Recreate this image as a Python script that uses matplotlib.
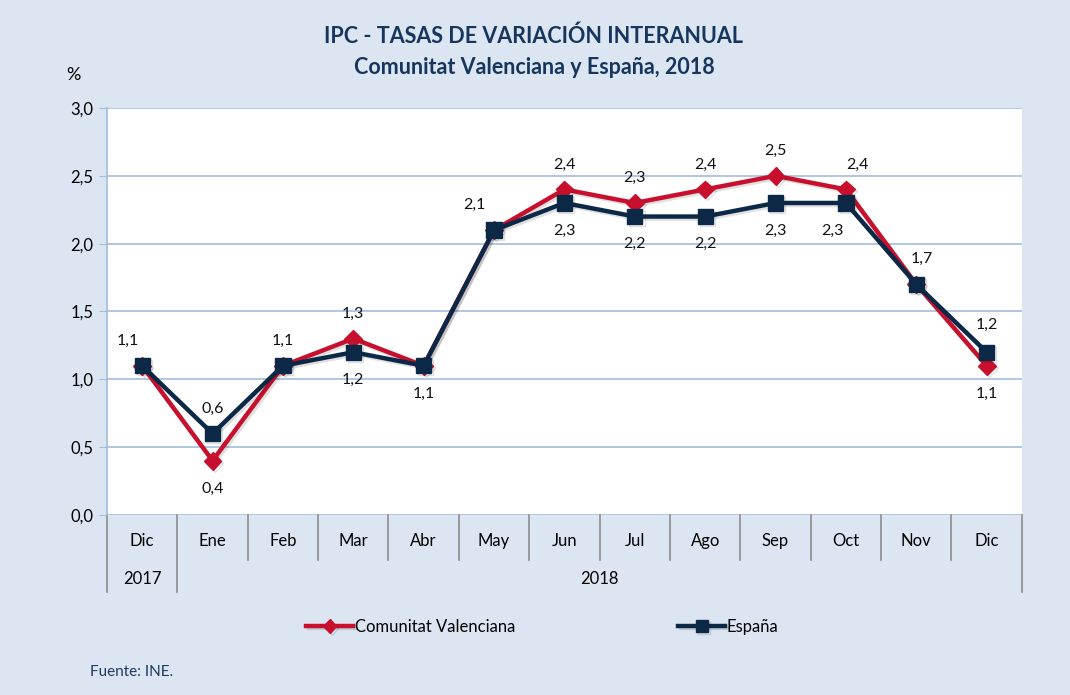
import numpy as np
import matplotlib.pyplot as plt
import matplotlib.patheffects as pe
from matplotlib.transforms import blended_transform_factory

plt.rcParams['font.family'] = ['Lato', 'DejaVu Sans']

# Data
months = ["Dic", "Ene", "Feb", "Mar", "Abr", "May", "Jun", "Jul", "Ago", "Sep", "Oct", "Nov", "Dic"]
years = ["2017", "2018"]
cv = [1.1, 0.4, 1.1, 1.3, 1.1, 2.1, 2.4, 2.3, 2.4, 2.5, 2.4, 1.7, 1.1]
esp = [1.1, 0.6, 1.1, 1.2, 1.1, 2.1, 2.3, 2.2, 2.2, 2.3, 2.3, 1.7, 1.2]

# label placement: (dx points, dy points) for each series, None = hidden
cv_off = [(-10, 18), (0, -20), (0, 18), (0, 18), None, (-14, 18), (0, 18), (0, 18), (0, 18), (0, 18), (8, 18), (4, 18), (0, -20)]
esp_off = [None, (0, 18), None, (0, -20), (0, -20), None, (0, -20), (0, -20), (0, -20), (0, -20), (-10, -20), None, (0, 20)]

BG = "#dce6f2"
RED = "#c8102e"
NAVY = "#0b2847"
GRID = "#a3bcdc"
SEP = "#8c8c8c"

fig = plt.figure(figsize=(10.7, 6.95), dpi=100, facecolor=BG)
ax = fig.add_axes([0.1, 0.259, 0.855, 0.5856])
ax.set_facecolor("white")

x = np.arange(len(months))
shadow = [pe.SimpleLineShadow(offset=(1.5, -1.5), alpha=0.12, rho=0.5), pe.Normal()]
ax.plot(x, cv, color=RED, lw=3.2, marker="D", markersize=9, label="Comunitat Valenciana",
        path_effects=shadow, zorder=3)
ax.plot(x, esp, color=NAVY, lw=3.2, marker="s", markersize=11, label="España",
        path_effects=shadow, zorder=4)

def fmt(v):
    return f"{v:.1f}".replace(".", ",")

for xi, v, off in zip(x, cv, cv_off):
    if off:
        ax.annotate(fmt(v), (xi, v), xytext=off, textcoords="offset points",
                    ha="center", va="center", fontsize=11.5, color="#111111")
for xi, v, off in zip(x, esp, esp_off):
    if off:
        ax.annotate(fmt(v), (xi, v), xytext=off, textcoords="offset points",
                    ha="center", va="center", fontsize=11.5, color="#111111")

ax.set_xlim(-0.5, len(months) - 0.5)
ax.set_ylim(0, 3.0)
yt = np.arange(0, 3.01, 0.5)
ax.set_yticks(yt)
ax.set_yticklabels([fmt(v) for v in yt], fontsize=12)
ax.tick_params(axis="y", length=6, color=GRID, pad=4)
ax.set_xticks([])
ax.grid(axis="y", color=GRID, lw=1.2)
ax.set_axisbelow(True)
for s in ["top", "right", "bottom"]:
    ax.spines[s].set_visible(False)
ax.spines["left"].set_color(GRID)
ax.spines["left"].set_linewidth(1.2)

# category axis (two levels)
tr = blended_transform_factory(ax.transData, ax.transAxes)
for i, m in enumerate(months):
    ax.text(i, -0.064, m, transform=tr, ha="center", va="center", fontsize=12)
for i in range(len(months) + 1):
    xb = i - 0.5
    bottom = -0.189 if i in (0, 1, len(months)) else -0.11
    ax.plot([xb, xb], [0, bottom], transform=tr, color=SEP, lw=1.2, clip_on=False)
ax.text(0, -0.157, years[0], transform=tr, ha="center", va="center", fontsize=12)
ax.text((1 + len(months) - 1) / 2, -0.157, years[1], transform=tr, ha="center", va="center", fontsize=12)

# titles
fig.text(0.499, 0.948, "IPC - TASAS DE VARIACIÓN INTERANUAL", ha="center", va="center",
         fontsize=15.5, fontweight="bold", color="#17365d")
fig.text(0.499, 0.903, "Comunitat Valenciana y España, 2018", ha="center", va="center",
         fontsize=15.5, fontweight="bold", color="#17365d")
fig.text(0.069, 0.892, "%", ha="center", va="center", fontsize=13)

fig.legend(loc="center", bbox_to_anchor=(0.507, 0.098), ncol=2, frameon=False,
           fontsize=12, handlelength=2.8, handletextpad=0.1, columnspacing=9.8,
           markerscale=0.75)

fig.text(0.084, 0.033, "Fuente: INE.", ha="left", va="center", fontsize=11, color="#1f3864")

fig.savefig("out.png", dpi=100, facecolor=BG)
